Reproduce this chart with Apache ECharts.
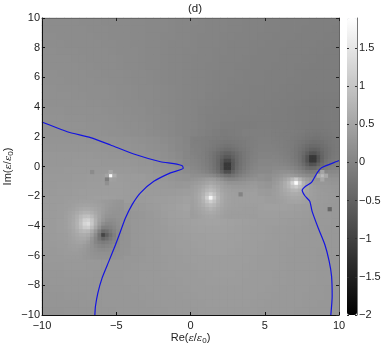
<!DOCTYPE html>
<html>
<head>
<meta charset="utf-8">
<style>html,body{margin:0;padding:0;background:#fff}#main{width:382px;height:346px}</style>
<script src="https://cdn.jsdelivr.net/npm/echarts@6/dist/echarts.min.js"></script>
</head>
<body>
<div id="main"></div>
<script>
const xTicks = [-10, -5, 0, 5, 10]
const yTicks = [-10, -8, -6, -4, -2, 0, 2, 4, 6, 8, 10]
const barTicks = [-2, -1.5, -1, -0.5, 0, 0.5, 1, 1.5]
const valueMin = -2
const valueMax = 1.89

// coarse field, 0.5 wide cells, top row first (y = 9.75 ... -9.75)
const coarseField = [
[.14,.14,.13,.13,.13,.12,.12,.12,.11,.11,.10,.10,.09,.09,.08,.07,.07,.06,.05,.04,.04,.03,.02,.01,.01,0,0,-.01,-.02,-.02,-.03,-.03,-.04,-.04,-.05,-.05,-.06,-.06,-.07,-.07],
[.14,.14,.14,.13,.13,.13,.12,.12,.12,.11,.10,.10,.09,.09,.08,.07,.07,.06,.05,.04,.03,.03,.02,.01,.01,0,0,-.01,-.02,-.02,-.03,-.03,-.04,-.05,-.05,-.06,-.06,-.07,-.07,-.08],
[.15,.15,.14,.14,.14,.13,.13,.12,.12,.11,.11,.10,.09,.09,.08,.07,.06,.06,.05,.04,.03,.02,.02,.01,0,0,-.01,-.01,-.02,-.03,-.03,-.04,-.05,-.05,-.06,-.06,-.07,-.07,-.08,-.08],
[.15,.15,.15,.14,.14,.14,.13,.13,.12,.12,.11,.10,.09,.09,.08,.07,.06,.05,.05,.04,.03,.02,.01,.01,0,-.01,-.01,-.02,-.03,-.03,-.04,-.04,-.05,-.06,-.06,-.07,-.07,-.08,-.08,-.09],
[.16,.16,.15,.15,.15,.14,.14,.13,.13,.12,.11,.11,.10,.09,.08,.07,.06,.05,.04,.03,.03,.02,.01,0,0,-.01,-.02,-.02,-.03,-.04,-.04,-.05,-.06,-.06,-.07,-.07,-.08,-.08,-.09,-.09],
[.16,.16,.16,.16,.15,.15,.14,.14,.13,.13,.12,.11,.10,.09,.08,.07,.06,.05,.04,.03,.02,.01,.01,0,-.01,-.01,-.02,-.03,-.04,-.04,-.05,-.05,-.06,-.07,-.07,-.08,-.08,-.09,-.09,-.09],
[.17,.17,.17,.16,.16,.15,.15,.14,.14,.13,.12,.11,.10,.09,.08,.07,.06,.05,.04,.03,.02,.01,0,0,-.01,-.02,-.03,-.03,-.04,-.05,-.05,-.06,-.06,-.07,-.08,-.08,-.09,-.09,-.09,-.10],
[.18,.18,.17,.17,.16,.16,.15,.15,.14,.14,.13,.12,.11,.10,.09,.07,.06,.05,.04,.03,.02,.01,0,-.01,-.01,-.02,-.03,-.04,-.04,-.05,-.06,-.06,-.07,-.07,-.08,-.09,-.09,-.09,-.10,-.10],
[.18,.18,.18,.17,.17,.16,.16,.15,.15,.14,.13,.12,.11,.10,.09,.08,.06,.05,.04,.03,.02,.01,0,-.01,-.02,-.03,-.03,-.04,-.05,-.05,-.06,-.07,-.07,-.08,-.08,-.09,-.09,-.10,-.10,-.10],
[.19,.19,.18,.18,.18,.17,.17,.16,.16,.15,.14,.13,.12,.11,.10,.09,.08,.06,.05,.03,.02,.01,0,-.01,-.02,-.03,-.04,-.05,-.06,-.06,-.07,-.07,-.08,-.08,-.09,-.09,-.10,-.10,-.10,-.10],
[.20,.20,.19,.19,.18,.18,.17,.17,.16,.15,.14,.13,.12,.11,.10,.09,.08,.06,.05,.03,.02,.01,-.01,-.02,-.03,-.04,-.05,-.05,-.06,-.07,-.07,-.08,-.08,-.09,-.10,-.10,-.11,-.11,-.11,-.11],
[.20,.20,.20,.20,.19,.19,.18,.18,.17,.16,.15,.14,.13,.12,.11,.09,.08,.06,.05,.03,.01,0,-.02,-.03,-.04,-.05,-.05,-.06,-.07,-.07,-.08,-.08,-.09,-.10,-.11,-.12,-.12,-.12,-.12,-.12],
[.21,.21,.21,.20,.20,.20,.19,.19,.18,.17,.16,.15,.14,.13,.11,.10,.08,.06,.05,.03,.01,-.01,-.03,-.04,-.05,-.06,-.06,-.07,-.07,-.08,-.08,-.09,-.10,-.11,-.12,-.13,-.14,-.14,-.13,-.13],
[.22,.22,.22,.21,.21,.21,.20,.20,.19,.18,.17,.16,.15,.14,.12,.11,.09,.07,.05,.03,.01,-.01,-.04,-.05,-.07,-.07,-.08,-.08,-.08,-.08,-.08,-.09,-.10,-.11,-.12,-.13,-.14,-.14,-.13,-.12],
[.23,.23,.23,.22,.22,.22,.21,.21,.20,.19,.18,.17,.16,.15,.13,.11,.09,.07,.05,.03,.01,-.02,-.05,-.07,-.09,-.10,-.10,-.10,-.09,-.08,-.08,-.09,-.10,-.11,-.12,-.14,-.15,-.15,-.14,-.13],
[.24,.24,.24,.23,.23,.23,.22,.22,.21,.20,.19,.18,.17,.16,.14,.12,.10,.08,.05,.03,0,-.03,-.07,-.10,-.12,-.11,-.09,-.07,-.06,-.06,-.07,-.09,-.13,-.18,-.22,-.27,-.29,-.27,-.23,-.19],
[.26,.26,.26,.26,.26,.26,.25,.25,.24,.24,.23,.22,.21,.20,.18,.16,.13,.10,.07,.03,-.01,-.06,-.10,-.14,-.14,-.12,-.08,-.05,-.04,-.04,-.05,-.07,-.11,-.18,-.26,-.33,-.33,-.26,-.20,-.16],
[.28,.28,.28,.28,.28,.28,.27,.27,.26,.26,.25,.24,.23,.22,.20,.18,.16,.12,.08,.04,-.01,-.08,-.18,-.25,-.25,-.18,-.10,-.05,-.03,-.03,-.03,-.05,-.10,-.18,-.30,-.42,-.42,-.30,-.20,-.14],
[.30,.30,.30,.30,.30,.30,.30,.29,.29,.28,.27,.26,.26,.25,.23,.21,.18,.15,.10,.05,0,-.09,-.22,-.40,-.40,-.22,-.10,-.03,0,0,0,-.02,-.08,-.16,-.30,-.45,-.45,-.28,-.16,-.10],
[.31,.31,.31,.31,.32,.32,.32,.32,.31,.31,.30,.30,.29,.28,.27,.24,.21,.18,.13,.08,.04,-.08,-.25,-.50,-.50,-.25,-.08,0,.04,.05,.04,.05,.01,-.06,-.18,-.30,-.32,-.20,-.10,-.06],
[.32,.32,.32,.33,.33,.34,.34,.34,.34,.34,.33,.33,.32,.31,.30,.28,.25,.22,.18,.13,.08,-.05,-.20,-.45,-.45,-.20,-.05,.04,.10,.09,.09,.20,.22,.20,.10,-.02,-.05,-.02,.04,.06],
[.33,.33,.34,.34,.35,.35,.36,.36,.38,.42,.38,.36,.36,.36,.34,.32,.30,.27,.24,.22,.22,.18,.06,-.06,-.06,.10,.18,.24,.28,.19,.17,.42,.44,.42,.30,.22,.20,.26,.24,.20],
[.34,.34,.35,.35,.36,.37,.38,.38,.39,.40,.39,.38,.37,.37,.36,.35,.33,.32,.31,.32,.32,.38,.34,.26,.24,.26,.30,.34,.38,.30,.28,.50,.56,.54,.46,.38,.36,.34,.30,.27],
[.35,.35,.36,.36,.38,.39,.39,.40,.40,.40,.39,.38,.38,.38,.37,.37,.37,.37,.38,.40,.40,.52,.55,.50,.44,.42,.40,.42,.44,.37,.35,.54,.58,.56,.50,.44,.40,.36,.33,.30],
[.36,.36,.37,.38,.39,.40,.41,.42,.42,.41,.39,.38,.37,.37,.38,.39,.40,.41,.42,.45,.50,.55,.58,.55,.52,.48,.46,.45,.45,.42,.40,.50,.52,.50,.46,.42,.39,.36,.34,.32],
[.36,.37,.38,.40,.42,.44,.46,.48,.48,.44,.38,.34,.33,.34,.36,.38,.41,.43,.45,.48,.52,.55,.58,.56,.52,.49,.46,.44,.43,.43,.44,.44,.44,.43,.41,.39,.37,.35,.33,.32],
[.36,.37,.38,.41,.44,.48,.50,.50,.48,.40,.30,.28,.29,.31,.33,.36,.39,.42,.44,.46,.48,.50,.52,.52,.50,.47,.45,.43,.42,.41,.41,.41,.40,.40,.38,.36,.35,.34,.33,.32],
[.36,.37,.39,.42,.46,.50,.54,.52,.44,.30,.18,.26,.30,.32,.33,.35,.38,.41,.43,.44,.46,.47,.48,.48,.47,.45,.44,.42,.41,.40,.39,.39,.38,.37,.36,.35,.34,.33,.33,.32],
[.36,.37,.39,.42,.46,.50,.52,.48,.30,.05,-.10,.24,.30,.32,.33,.35,.37,.39,.41,.42,.44,.45,.46,.46,.45,.44,.43,.41,.40,.39,.38,.37,.36,.35,.35,.34,.33,.33,.32,.32],
[.35,.36,.38,.41,.44,.46,.44,.35,.10,-.10,-.15,.25,.31,.32,.33,.35,.37,.38,.39,.41,.42,.43,.44,.44,.44,.43,.42,.41,.40,.39,.38,.37,.36,.35,.34,.34,.33,.33,.32,.32],
[.34,.35,.36,.38,.40,.40,.36,.28,.14,.08,.10,.25,.31,.32,.33,.34,.36,.37,.39,.40,.41,.42,.43,.43,.43,.42,.41,.40,.39,.38,.37,.36,.35,.35,.34,.33,.33,.33,.32,.32],
[.33,.34,.35,.36,.36,.36,.34,.30,.26,.24,.24,.26,.30,.31,.33,.34,.36,.37,.38,.39,.40,.41,.42,.42,.42,.41,.40,.40,.39,.38,.37,.36,.35,.34,.34,.33,.33,.32,.32,.32],
[.32,.33,.33,.34,.34,.34,.33,.32,.30,.30,.30,.30,.31,.32,.33,.34,.35,.36,.37,.38,.39,.40,.40,.40,.40,.40,.40,.39,.38,.37,.36,.36,.35,.34,.34,.33,.33,.32,.32,.31],
[.31,.32,.32,.33,.33,.33,.32,.32,.31,.31,.31,.31,.32,.33,.33,.34,.35,.36,.37,.37,.38,.39,.39,.40,.40,.39,.39,.38,.38,.37,.36,.36,.35,.34,.34,.33,.33,.32,.32,.31],
[.30,.31,.31,.32,.32,.32,.32,.31,.31,.31,.31,.32,.32,.33,.33,.34,.35,.35,.36,.37,.37,.38,.38,.39,.39,.39,.38,.38,.37,.37,.36,.35,.35,.34,.34,.33,.33,.32,.32,.31],
[.29,.30,.30,.31,.31,.31,.31,.31,.31,.31,.31,.32,.32,.33,.33,.34,.34,.35,.35,.36,.37,.37,.38,.38,.38,.38,.38,.37,.37,.36,.36,.35,.35,.34,.34,.33,.33,.32,.32,.31],
[.28,.29,.29,.30,.30,.30,.30,.30,.30,.31,.31,.31,.32,.32,.33,.33,.34,.34,.35,.35,.36,.36,.37,.37,.37,.37,.37,.37,.36,.36,.35,.35,.34,.34,.33,.33,.32,.32,.31,.31],
[.27,.28,.28,.29,.29,.29,.30,.30,.30,.30,.31,.31,.31,.32,.32,.33,.33,.34,.34,.35,.35,.36,.36,.36,.37,.37,.36,.36,.36,.35,.35,.34,.34,.33,.33,.32,.32,.32,.31,.31],
[.26,.27,.27,.28,.28,.29,.29,.29,.30,.30,.30,.31,.31,.31,.32,.32,.33,.33,.34,.34,.35,.35,.36,.36,.36,.36,.36,.36,.35,.35,.34,.34,.33,.33,.33,.32,.32,.31,.31,.30],
[.25,.26,.26,.27,.27,.28,.28,.29,.29,.29,.30,.30,.31,.31,.31,.32,.32,.33,.33,.34,.34,.35,.35,.35,.35,.35,.35,.35,.35,.34,.34,.33,.33,.33,.32,.32,.31,.31,.30,.30]
]

// finer patches around the sharp peaks, 0.25 wide cells: [first col, first row, rows]
const patchLeftPair = [6, 49, [
[.38,.39,.40,.41,.42,.43,.43,.43,.41,.39,.37,.35,.33,.31,.29,.28],
[.39,.40,.42,.45,.47,.49,.49,.47,.45,.42,.39,.35,.32,.29,.28,.27],
[.40,.42,.46,.50,.55,.58,.58,.55,.50,.45,.39,.34,.29,.27,.26,.26],
[.41,.45,.50,.58,.66,.72,.72,.66,.56,.47,.38,.31,.27,.25,.25,.26],
[.42,.47,.54,.66,.80,.92,.94,.82,.64,.48,.35,.26,.22,.22,.24,.26],
[.42,.48,.57,.70,.90,1.15,1.20,1.00,.70,.46,.30,.18,.15,.17,.21,.25],
[.43,.49,.58,.72,.95,1.25,1.35,1.05,.68,.38,.16,.08,.07,.12,.18,.25],
[.42,.48,.57,.70,.88,1.08,1.12,.88,.54,.22,-.04,-.06,-.02,.06,.15,.24],
[.41,.46,.53,.62,.74,.80,.78,.60,.30,-.05,-.38,-.30,-.14,0,.12,.23],
[.40,.44,.50,.56,.62,.64,.60,.42,.14,-.25,-.95,-.55,-.28,-.06,.10,.22],
[.39,.42,.47,.52,.55,.54,.47,.28,.04,-.22,-.45,-.32,-.16,-.02,.11,.23],
[.38,.41,.44,.47,.48,.45,.36,.22,.04,-.06,-.12,-.08,-.02,.04,.13,.24],
[.37,.39,.41,.42,.41,.37,.31,.22,.12,.04,.02,.04,.08,.12,.17,.24],
[.36,.38,.39,.39,.37,.33,.28,.23,.18,.13,.12,.13,.15,.17,.20,.25],
[.36,.36,.37,.37,.35,.32,.28,.24,.21,.19,.19,.19,.19,.21,.23,.25],
[.35,.35,.35,.35,.34,.31,.29,.26,.24,.23,.22,.22,.22,.23,.24,.26]
]]
const patchCentre = [40, 32, [
[-.05,-.06,-.07,-.08,-.09,-.10,-.11,-.12,-.13,-.14,-.14,-.13,-.12,-.11,-.10,-.09,-.08,-.07],
[-.05,-.06,-.07,-.08,-.10,-.12,-.14,-.16,-.17,-.18,-.18,-.17,-.16,-.14,-.12,-.10,-.08,-.07],
[-.04,-.05,-.06,-.08,-.10,-.13,-.16,-.19,-.22,-.24,-.24,-.22,-.19,-.16,-.13,-.10,-.08,-.06],
[-.02,-.04,-.05,-.08,-.11,-.15,-.19,-.24,-.29,-.33,-.33,-.29,-.24,-.19,-.15,-.11,-.08,-.05],
[-.01,-.03,-.05,-.08,-.13,-.19,-.26,-.34,-.43,-.50,-.50,-.43,-.34,-.26,-.19,-.13,-.08,-.05],
[.01,-.01,-.04,-.07,-.12,-.19,-.28,-.38,-.52,-.66,-.66,-.52,-.38,-.28,-.19,-.12,-.07,-.03],
[.03,.01,-.02,-.06,-.11,-.18,-.28,-.42,-.62,-.90,-.90,-.62,-.42,-.28,-.18,-.11,-.05,-.01],
[.05,.03,0,-.04,-.10,-.17,-.27,-.42,-.68,-1.15,-1.15,-.68,-.42,-.27,-.17,-.09,-.03,.01],
[.08,.06,.03,-.01,-.07,-.14,-.24,-.39,-.65,-1.15,-1.15,-.65,-.39,-.24,-.14,-.06,0,.04],
[.12,.10,.07,.03,-.02,-.09,-.18,-.30,-.50,-.80,-.80,-.50,-.30,-.18,-.09,-.02,.04,.08],
[.18,.18,.18,.17,.15,.12,.06,-.04,-.16,-.28,-.32,-.25,-.15,-.06,.01,.06,.10,.14],
[.26,.28,.31,.34,.38,.40,.36,.28,.18,.08,.02,.02,.05,.10,.14,.18,.20,.22],
[.34,.36,.40,.44,.50,.54,.50,.44,.38,.30,.25,.24,.24,.26,.28,.30,.32,.34],
[.38,.42,.47,.54,.64,.72,.64,.54,.46,.40,.36,.34,.33,.33,.34,.35,.36,.37],
[.41,.46,.53,.64,.78,.86,.78,.64,.52,.46,.42,.40,.39,.39,.39,.40,.40,.41],
[.43,.49,.58,.72,.95,1.15,.95,.72,.58,.49,.44,.42,.41,.41,.41,.42,.42,.43],
[.44,.50,.60,.78,1.15,1.75,1.15,.78,.60,.50,.45,.43,.42,.42,.42,.42,.43,.43],
[.43,.49,.58,.72,.95,1.15,.95,.72,.58,.49,.45,.43,.42,.42,.42,.42,.42,.42],
[.42,.47,.54,.64,.78,.86,.78,.64,.54,.47,.44,.42,.42,.41,.41,.41,.41,.41],
[.41,.45,.50,.56,.64,.72,.64,.56,.50,.45,.42,.41,.41,.41,.40,.40,.40,.40],
[.40,.43,.47,.51,.56,.60,.56,.51,.47,.43,.41,.40,.40,.40,.40,.39,.39,.39],
[.39,.41,.44,.47,.50,.52,.50,.47,.44,.41,.40,.39,.39,.39,.39,.39,.38,.38]
]]
const patchRight = [62, 30, [
[-.08,-.08,-.08,-.09,-.09,-.10,-.11,-.12,-.13,-.15,-.16,-.17,-.17,-.16,-.15,-.14,-.13,-.12],
[-.08,-.08,-.09,-.09,-.10,-.11,-.12,-.14,-.16,-.18,-.19,-.20,-.20,-.19,-.17,-.16,-.14,-.13],
[-.07,-.08,-.08,-.09,-.10,-.12,-.14,-.16,-.19,-.21,-.23,-.24,-.24,-.22,-.20,-.18,-.16,-.14],
[-.06,-.07,-.08,-.09,-.11,-.13,-.15,-.18,-.22,-.26,-.29,-.30,-.29,-.27,-.23,-.20,-.17,-.15],
[-.05,-.06,-.07,-.09,-.11,-.13,-.17,-.21,-.27,-.33,-.38,-.39,-.37,-.32,-.27,-.22,-.18,-.16],
[-.03,-.04,-.06,-.08,-.10,-.14,-.18,-.24,-.32,-.42,-.50,-.52,-.47,-.38,-.30,-.24,-.19,-.16],
[-.01,-.02,-.04,-.06,-.09,-.13,-.19,-.27,-.38,-.55,-.72,-.74,-.60,-.44,-.32,-.24,-.18,-.15],
[.01,0,-.02,-.04,-.07,-.12,-.18,-.28,-.44,-.70,-1.15,-1.15,-.75,-.48,-.32,-.23,-.17,-.14],
[.03,.03,.01,-.01,-.05,-.09,-.16,-.26,-.44,-.72,-1.15,-1.15,-.72,-.44,-.28,-.19,-.14,-.11],
[.06,.06,.05,.03,0,-.05,-.11,-.20,-.35,-.55,-.75,-.72,-.50,-.32,-.20,-.12,-.08,-.06],
[.10,.11,.11,.10,.08,.04,-.02,-.10,-.20,-.33,-.40,-.38,-.28,-.16,-.08,-.03,0,.01],
[.15,.17,.19,.20,.19,.16,.11,.05,-.03,-.11,-.14,-.12,-.07,-.01,.04,.07,.08,.09],
[.21,.25,.29,.33,.36,.35,.30,.23,.16,.10,.08,.08,.10,.14,.16,.17,.17,.17],
[.27,.32,.40,.50,.62,.80,1.05,.74,.50,.38,.30,.27,.26,.26,.26,.26,.25,.24],
[.32,.38,.48,.62,.80,1.20,1.85,1.15,.72,.50,.40,.34,.32,.31,.30,.29,.28,.27],
[.36,.42,.50,.62,.76,.96,1.10,.90,.68,.52,.43,.38,.35,.34,.33,.32,.31,.30],
[.38,.43,.50,.58,.66,.74,.78,.70,.60,.50,.43,.39,.37,.35,.34,.33,.32,.31],
[.39,.43,.48,.53,.58,.62,.63,.60,.54,.47,.42,.39,.37,.36,.35,.34,.33,.32],
[.39,.42,.45,.49,.52,.54,.55,.53,.49,.45,.41,.39,.37,.36,.35,.34,.33,.32],
[.39,.41,.43,.46,.48,.49,.50,.48,.46,.43,.40,.38,.37,.36,.35,.34,.33,.32]
]]
// single small spots: [col, row, value]
const spotCells = [
  [18, 42, 1.85], [17, 42, .5], [19, 42, .62], [18, 41, .55], [18, 43, .45],
  [17, 43, -.1], [19, 43, .42], [17, 44, .2], [13, 41, .12],
  [75, 42, .85], [74, 42, .6], [76, 42, .55], [75, 41, .5], [75, 43, .55],
  [77, 51, -.45], [53, 47, 0]
]

// zero contours, [re, im]
const curveLeft = [[-10,3],[-9.88,2.95],[-8.3,2.34],[-6.73,1.94],[-5.39,1.45],[-3.82,.84],[-2.02,.32],[-1.12,.19],[-.56,.05],[-.49,-.12],[-1.35,-.43],[-2.47,-1],[-3.37,-1.78],[-3.93,-2.57],[-4.38,-3.47],[-4.71,-4.36],[-5.05,-5.27],[-5.5,-6.39],[-5.95,-7.5],[-6.24,-8.52],[-6.4,-9.41],[-6.44,-10]]
const curveRight = [[10,.4],[9.88,.35],[8.82,-.08],[8.55,-.39],[8.15,-1.07],[7.75,-1.33],[7.52,-1.6],[7.7,-1.97],[8.03,-2.34],[8.19,-3.02],[8.6,-4.14],[9.05,-5.27],[9.34,-6.39],[9.5,-7.4],[9.54,-8.74],[9.45,-10]]

const coarseCats = coarseField.map((r, i) => i)
const fineCats = Array.from({ length: 80 }, (v, i) => i)

const coarseData = []
coarseField.forEach((row, j) => row.forEach((v, i) => coarseData.push([i, j, v])))

const fineData = []
for (const [col, top, rows] of [patchLeftPair, patchCentre, patchRight]) {
  rows.forEach((row, j) => row.forEach((v, i) => fineData.push([col + i, top + j, v])))
}
spotCells.forEach(c => fineData.push(c))

const FONT = '"Liberation Sans", Arial, sans-serif'
const minus = v => String(v).replace('-', '\u2212')
const nameRich = {
  i: { fontFamily: '"DejaVu Serif", serif', fontStyle: 'italic', fontSize: 10, color: '#222' },
  sub: { fontFamily: FONT, fontSize: 8, color: '#222', verticalAlign: 'bottom', padding: [6, 0, 0, 0] }
}

const chart = echarts.init(document.getElementById('main'), null, { renderer: 'canvas' })

chart.setOption({
  animation: false,
  title: {
    text: '(d)', left: 190, top: -2, textAlign: 'center',
    textStyle: { fontFamily: FONT, fontSize: 11.5, fontWeight: 'normal', color: '#222' }
  },
  grid: [
    // the plain fill behind the cells hides the hairlines between them
    { left: 42, top: 18, width: 297, height: 297, outerBoundsMode: 'none', show: true, backgroundColor: '#8a8a8a', borderWidth: 0 },
    { left: 347, top: 18, width: 10, height: 297, outerBoundsMode: 'none' }
  ],
  visualMap: {
    type: 'continuous', seriesIndex: [0, 1], min: valueMin, max: valueMax,
    inRange: { color: ['#000000', '#ffffff'] },
    calculable: false, hoverLink: false, padding: 0, borderWidth: 0,
    left: 347, top: 18, itemWidth: 10, itemHeight: 297,
    textStyle: { color: 'transparent' }
  },
  xAxis: [
    {
      type: 'value', gridIndex: 0, position: 'bottom', min: -10, max: 10, interval: 5, z: 5,
      name: 'Re({i|\u03b5}/{i|\u03b5}{sub|0})', nameLocation: 'middle', nameGap: 16, nameMoveOverlap: false,
      nameTextStyle: { fontFamily: FONT, fontSize: 11, color: '#222', rich: nameRich },
      splitLine: { show: false },
      axisLine: { onZero: false, lineStyle: { color: '#111' } },
      axisTick: { inside: true, length: 3, lineStyle: { color: '#111' }, customValues: xTicks },
      axisLabel: { customValues: xTicks, margin: 5, fontFamily: FONT, fontSize: 11, color: '#222', formatter: minus }
    },
    {
      type: 'value', gridIndex: 0, position: 'top', min: -10, max: 10, interval: 5, z: 5,
      splitLine: { show: false },
      axisLine: { onZero: false, lineStyle: { color: '#666' } },
      axisTick: { inside: true, length: 3, lineStyle: { color: '#222' }, customValues: xTicks },
      axisLabel: { show: false }
    },
    { type: 'category', gridIndex: 0, data: coarseCats, show: false },
    { type: 'category', gridIndex: 0, data: fineCats, show: false },
    { type: 'value', gridIndex: 1, min: 0, max: 1, show: false }
  ],
  yAxis: [
    {
      type: 'value', gridIndex: 0, position: 'left', min: -10, max: 10, interval: 2, z: 5,
      name: 'Im({i|\u03b5}/{i|\u03b5}{sub|0})', nameLocation: 'middle', nameGap: 27, nameRotate: 90, nameMoveOverlap: false,
      nameTextStyle: { fontFamily: FONT, fontSize: 11, color: '#222', rich: nameRich },
      splitLine: { show: false },
      axisLine: { onZero: false, lineStyle: { color: '#111' } },
      axisTick: { inside: true, length: 3, lineStyle: { color: '#111' }, customValues: yTicks },
      axisLabel: { customValues: yTicks, margin: 2, fontFamily: FONT, fontSize: 11, color: '#222', formatter: minus }
    },
    {
      type: 'value', gridIndex: 0, position: 'right', min: -10, max: 10, interval: 2, z: 5,
      splitLine: { show: false },
      axisLine: { onZero: false, lineStyle: { color: '#666' } },
      axisTick: { inside: true, length: 3, lineStyle: { color: '#222' }, customValues: yTicks },
      axisLabel: { show: false }
    },
    { type: 'category', gridIndex: 0, data: coarseCats, inverse: true, show: false },
    { type: 'category', gridIndex: 0, data: fineCats, inverse: true, show: false },
    {
      type: 'value', gridIndex: 1, position: 'right', min: valueMin, max: valueMax, z: 6,
      splitLine: { show: false },
      axisLine: { show: true, onZero: false, lineStyle: { color: '#777' } },
      axisTick: { show: true, inside: true, length: 2, lineStyle: { color: '#333' }, customValues: barTicks },
      axisLabel: { customValues: barTicks, margin: 2, fontFamily: FONT, fontSize: 11, color: '#222', formatter: minus }
    },
    {
      type: 'value', gridIndex: 1, position: 'left', min: valueMin, max: valueMax, z: 6,
      splitLine: { show: false },
      axisLine: { show: false },
      axisTick: { show: true, inside: true, length: 2, lineStyle: { color: '#333' }, customValues: barTicks },
      axisLabel: { show: false }
    }
  ],
  series: [
    { type: 'heatmap', xAxisIndex: 2, yAxisIndex: 2, data: coarseData, progressive: 0, z: 1 },
    { type: 'heatmap', xAxisIndex: 3, yAxisIndex: 3, data: fineData, progressive: 0, z: 2 },
    {
      type: 'line', xAxisIndex: 0, yAxisIndex: 0, data: curveLeft, z: 4, showSymbol: false, smooth: 0.2,
      lineStyle: { color: '#1414e0', width: 1.2 }
    },
    {
      type: 'line', xAxisIndex: 0, yAxisIndex: 0, data: curveRight, z: 4, showSymbol: false, smooth: 0.2,
      lineStyle: { color: '#1414e0', width: 1.2 }
    }
  ]
})
</script>
</body>
</html>
